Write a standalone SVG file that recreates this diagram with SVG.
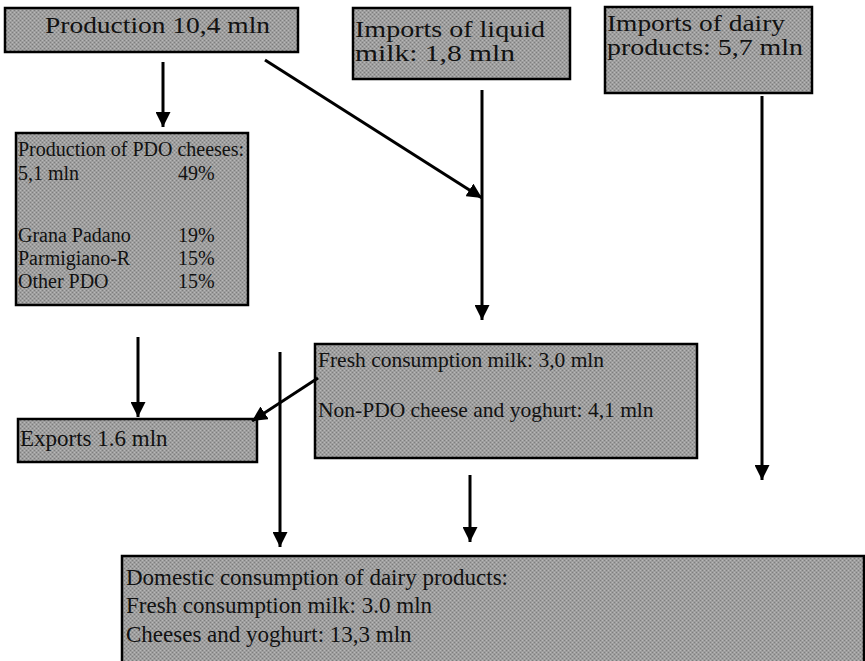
<svg xmlns="http://www.w3.org/2000/svg" width="865" height="661" viewBox="0 0 865 661">
<defs>
<pattern id="ht" width="4" height="4" patternUnits="userSpaceOnUse">
<rect width="4" height="4" fill="#9e9e9e"/>
<rect x="0" y="0" width="1" height="1" fill="#7e7e7e"/>
<rect x="2" y="2" width="1" height="1" fill="#7e7e7e"/>
<rect x="2" y="0" width="1" height="1" fill="#b8b8b8"/>
<rect x="0" y="2" width="1" height="1" fill="#b8b8b8"/>
</pattern>
<marker id="ah" viewBox="0 0 10 10" refX="10" refY="5" markerWidth="5" markerHeight="5" orient="auto" markerUnits="strokeWidth">
<path d="M0,0 L10,5 L0,10 z" fill="#000"/>
</marker>
</defs>
<style>
.box{fill:url(#ht);stroke:#000;stroke-width:2.5}
.t{font-family:"Liberation Serif","Times New Roman",serif;font-size:20px;fill:#111}
.s24{font-size:24px}
.s22{font-size:21.5px}
.s23{font-size:23px}
.c{stroke:#000;stroke-width:3;fill:none;marker-end:url(#ah)}
</style>
<rect width="865" height="661" fill="#fff"/>
<g id="production">
<rect class="box" x="5" y="8" width="293" height="44"/>
<text class="t s24" x="45" y="33" textLength="225" lengthAdjust="spacingAndGlyphs">Production 10,4 mln</text>
</g>
<g id="imports-liquid">
<rect class="box" x="353" y="8" width="217" height="71"/>
<text class="t s24" x="355" y="37" textLength="190" lengthAdjust="spacingAndGlyphs">Imports of liquid</text>
<text class="t s24" x="355" y="61" textLength="160" lengthAdjust="spacingAndGlyphs">milk: 1,8 mln</text>
</g>
<g id="imports-dairy">
<rect class="box" x="605" y="7" width="207" height="86"/>
<text class="t s24" x="607" y="31" textLength="178" lengthAdjust="spacingAndGlyphs">Imports of dairy</text>
<text class="t s24" x="607" y="55" textLength="196" lengthAdjust="spacingAndGlyphs">products: 5,7 mln</text>
</g>
<g id="pdo">
<rect class="box" x="16" y="133" width="232" height="172"/>
<text class="t" x="18" y="156" textLength="226" lengthAdjust="spacingAndGlyphs">Production of PDO cheeses:</text>
<text class="t" x="18" y="180">5,1 mln</text>
<text class="t" x="178" y="180">49%</text>
<text class="t" x="18" y="242">Grana Padano</text>
<text class="t" x="178" y="242">19%</text>
<text class="t" x="18" y="265">Parmigiano-R</text>
<text class="t" x="178" y="265">15%</text>
<text class="t" x="18" y="288">Other PDO</text>
<text class="t" x="178" y="288">15%</text>
</g>
<g id="exports">
<rect class="box" x="18" y="419" width="239" height="43"/>
<text class="t s23" x="20" y="446">Exports 1.6 mln</text>
</g>
<g id="fresh">
<rect class="box" x="315" y="344" width="382" height="114"/>
<text class="t s22" x="318" y="367">Fresh consumption milk: 3,0 mln</text>
<text class="t s22" x="318" y="417">Non-PDO cheese and yoghurt: 4,1 mln</text>
</g>
<g id="domestic">
<rect class="box" x="122" y="556" width="742" height="110"/>
<text class="t s23" x="126" y="585">Domestic consumption of dairy products:</text>
<text class="t s23" x="126" y="613">Fresh consumption milk: 3.0 mln</text>
<text class="t s23" x="126" y="642">Cheeses and yoghurt: 13,3 mln</text>
</g>
<g id="connectors">
<line class="c" x1="163" y1="62" x2="163" y2="127"/>
<line class="c" x1="265" y1="60" x2="482" y2="198"/>
<line class="c" x1="482" y1="90" x2="482" y2="320"/>
<line class="c" x1="762" y1="96" x2="762" y2="480"/>
<line class="c" x1="138" y1="337" x2="138" y2="417"/>
<line class="c" x1="280" y1="352" x2="280" y2="547"/>
<line class="c" x1="318" y1="378" x2="252" y2="421"/>
<line class="c" x1="470" y1="475" x2="470" y2="542"/>
</g>
</svg>
